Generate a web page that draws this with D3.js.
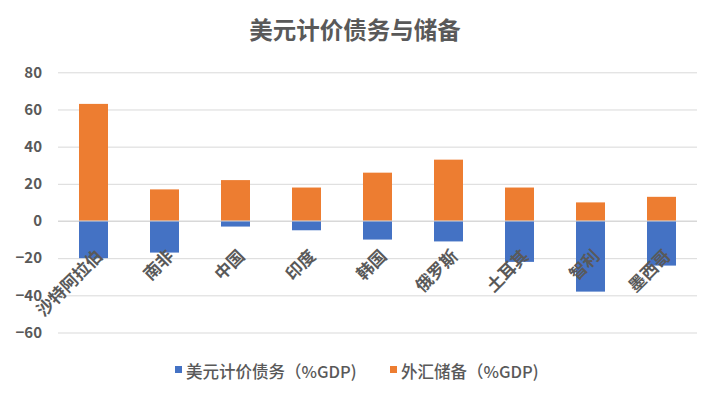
<!DOCTYPE html>
<html><head><meta charset="utf-8">
<script src="https://cdn.jsdelivr.net/npm/d3@7"></script>
<style>body{margin:0;background:#fff;} svg{display:block;}</style>
</head><body>
<svg id="c" width="710" height="393"></svg>
<script>
const categories = ["沙特阿拉伯","南非","中国","印度","韩国","俄罗斯","土耳其","智利","墨西哥"];
const debt = [-20,-17,-3,-5,-10,-11,-22,-38,-24];
const reserves = [63,17,22,18,26,33,18,10,13];
const yTicks = [80,60,40,20,0,-20,-40,-60];
const seriesNames = ["美元计价债务（%GDP)","外汇储备（%GDP)"];
const colors = ["#4472C4","#ED7D31"];

const svg = d3.select("#c");
const font = "'Noto Sans CJK SC','Microsoft YaHei',sans-serif";
const txt = "#595959";
const L = 58, R = 697;
const x = d3.scaleBand().domain(categories).range([L,R]).paddingInner(0.59).paddingOuter(0.295);
const y = d3.scaleLinear().domain([-60,80]).range([332.5,72.3]);

svg.append("text").attr("x",355).attr("y",39).attr("text-anchor","middle")
  .attr("font-family",font).attr("font-weight","bold").attr("font-size",23.5).attr("fill",txt)
  .text("美元计价债务与储备");

const yAxis = svg.append("g").attr("transform",`translate(${L},0)`)
  .call(d3.axisLeft(y).tickValues(yTicks).tickSize(-(R-L)).tickPadding(16));
yAxis.select(".domain").remove();
yAxis.selectAll(".tick line").attr("stroke","#d9d9d9").attr("stroke-width",1);
yAxis.selectAll(".tick text").attr("font-family",font).attr("font-weight","bold")
  .attr("font-size",15).attr("fill",txt);

const bw = 29;
const g = svg.append("g");
g.selectAll(".o").data(categories).join("rect")
  .attr("x",d=>x(d)+x.bandwidth()/2-bw/2).attr("width",bw)
  .attr("y",(d,i)=>y(reserves[i])).attr("height",(d,i)=>y(0)-y(reserves[i]))
  .attr("fill",colors[1]);
g.selectAll(".b").data(categories).join("rect")
  .attr("x",d=>x(d)+x.bandwidth()/2-bw/2).attr("width",bw)
  .attr("y",y(0)).attr("height",(d,i)=>y(debt[i])-y(0))
  .attr("fill",colors[0]);

svg.append("line").attr("x1",L).attr("x2",R).attr("y1",y(0)).attr("y2",y(0))
  .attr("stroke","#d9d9d9").attr("stroke-width",1);

svg.append("g").selectAll("text").data(categories).join("text")
  .attr("transform",d=>`translate(${x(d)+x.bandwidth()/2-1},${y(0)+25}) rotate(-45)`)
  .attr("text-anchor","end").attr("dominant-baseline","hanging")
  .attr("font-family",font).attr("font-weight","bold").attr("font-size",17).attr("fill",txt)
  .text(d=>d);

const lx = [175,390];
const leg = svg.append("g");
seriesNames.forEach((n,i)=>{
  leg.append("rect").attr("x",lx[i]).attr("y",366).attr("width",7).attr("height",7).attr("fill",colors[i]);
  leg.append("text").attr("x",lx[i]+11).attr("y",377.5).attr("font-family",font)
    .attr("font-weight","500").attr("font-size",16.5).attr("fill",txt).text(n);
});
</script>
</body></html>
